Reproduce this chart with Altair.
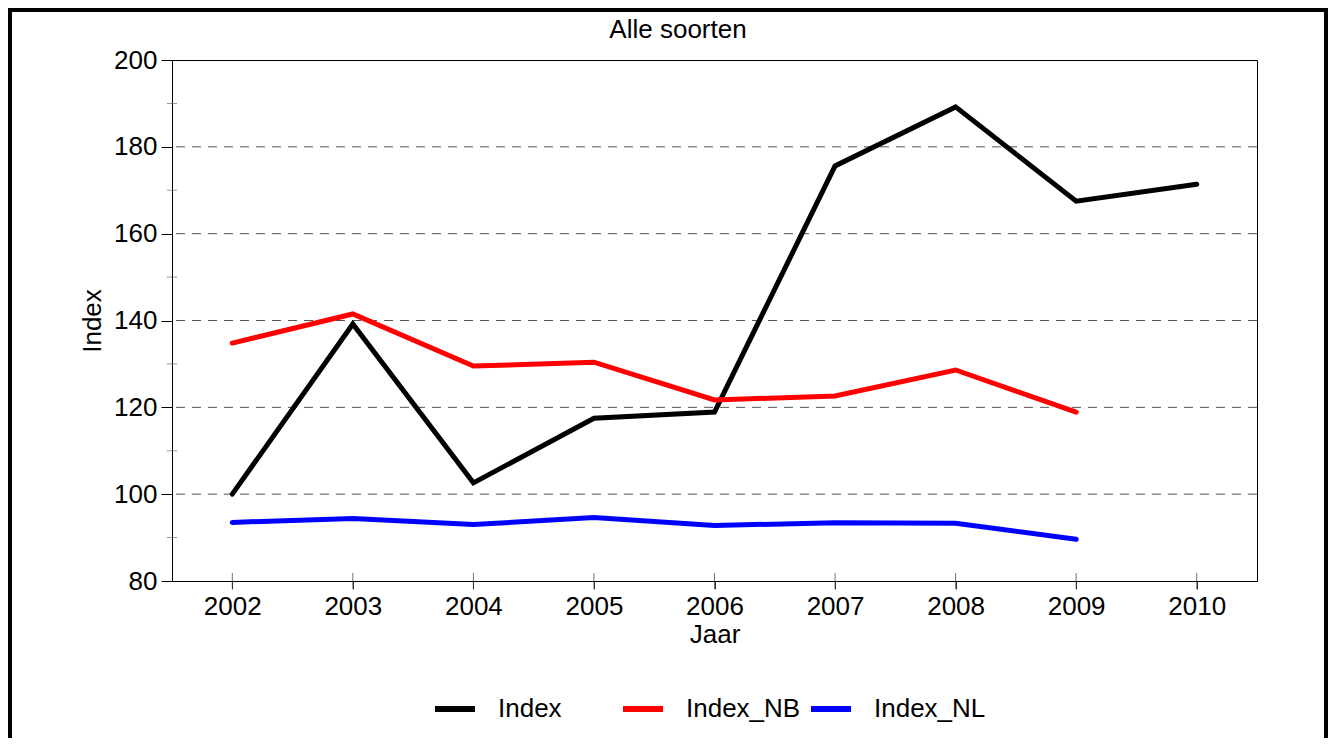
import altair as alt
import pandas as pd

years = [2002, 2003, 2004, 2005, 2006, 2007, 2008, 2009, 2010]
index_vals = [100.0, 139.2, 102.6, 117.5, 118.9, 175.6, 189.2, 167.5, 171.4]
index_nb_vals = [134.8, 141.5, 129.5, 130.4, 121.7, 122.6, 128.6, 118.9]
index_nl_vals = [93.5, 94.4, 93.0, 94.6, 92.8, 93.4, 93.3, 89.6]

series_names = ["Index", "Index_NB", "Index_NL"]
series_colors = ["#000000", "#ff0000", "#0000ff"]

y_major = [80, 100, 120, 140, 160, 180, 200]
y_grid = [100, 120, 140, 160, 180]
y_minor = [90, 110, 130, 150, 170, 190]

chart_title = ["Alle soorten"]

FONT = "Liberation Sans"
FS = 26

rows = []
for name, vals in zip(series_names, [index_vals, index_nb_vals, index_nl_vals]):
    for yr, v in zip(years, vals):
        rows.append({"Jaar": yr, "Serie": name, "Waarde": v})
df = pd.DataFrame(rows)

x_scale = alt.Scale(domain=[2001.5, 2010.5], nice=False, zero=False)
y_scale = alt.Scale(domain=[80, 200], nice=False, zero=False)

PLOT_W, PLOT_H = 1085, 521

lines = alt.Chart(df).mark_line(strokeWidth=5, strokeCap="round", strokeJoin="miter").encode(
    x=alt.X("Jaar:Q", scale=x_scale,
            axis=alt.Axis(values=years, format="d", title="Jaar", grid=False,
                          tickSize=8, tickColor="#333333", labelPadding=4,
                          labelFontSize=FS, titleFontSize=FS, titleFontWeight="normal",
                          titlePadding=2, labelColor="black", titleColor="black",
                          domainColor="black")),
    y=alt.Y("Waarde:Q", scale=y_scale,
            axis=alt.Axis(values=y_major, title="Index", grid=False,
                          tickSize=11, tickColor="black", labelPadding=4,
                          labelFontSize=FS, titleFontSize=FS, titleFontWeight="normal",
                          titleX=-80, titleY=PLOT_H / 2, titleAlign="center",
                          titleBaseline="middle",
                          labelColor="black", titleColor="black", domainColor="black")),
    color=alt.Color("Serie:N",
                    scale=alt.Scale(domain=series_names, range=series_colors),
                    legend=alt.Legend(title=None, orient="none", legendX=260, legendY=626,
                                      direction="horizontal", columns=3, gridAlign="all",
                                      symbolType="stroke", symbolSize=1600,
                                      symbolStrokeWidth=6, labelFontSize=FS,
                                      labelOffset=20, columnPadding=-2, padding=0,
                                      labelColor="black")),
)

grid = alt.Chart(pd.DataFrame({"v": y_grid})).mark_rule(
    stroke="#555555", strokeWidth=1, strokeDash=[9, 7]
).encode(y=alt.Y("v:Q", scale=y_scale))

minor = alt.Chart(pd.DataFrame({"v": y_minor})).mark_tick(
    color="#666666", thickness=1, size=10, orient="horizontal"
).encode(y=alt.Y("v:Q", scale=y_scale), x=alt.value(0))

xticks = alt.Chart(pd.DataFrame({"yr": years})).mark_tick(
    color="#333333", thickness=1, size=16, orient="vertical"
).encode(x=alt.X("yr:Q", scale=x_scale), y=alt.value(PLOT_H))

title_text = alt.Chart(pd.DataFrame({"t": chart_title})).mark_text(
    font=FONT, fontSize=FS, color="black", align="center", baseline="middle"
).encode(text="t:N", x=alt.value(506), y=alt.value(-30))

frame = alt.Chart(pd.DataFrame({"a": [0]})).mark_rect(
    filled=False, stroke="black", strokeWidth=4
).encode(x=alt.value(-162), x2=alt.value(1154), y=alt.value(-50), y2=alt.value(720))

chart = alt.layer(grid, minor, xticks, lines, title_text, frame).properties(
    width=PLOT_W, height=PLOT_H,
    autosize="none",
    padding={"left": 164, "top": 52, "right": 71, "bottom": 157},
).configure(font=FONT).configure_view(stroke="black", strokeWidth=1)

chart.save("out.html", embed_options={"renderer": "svg", "actions": False})
